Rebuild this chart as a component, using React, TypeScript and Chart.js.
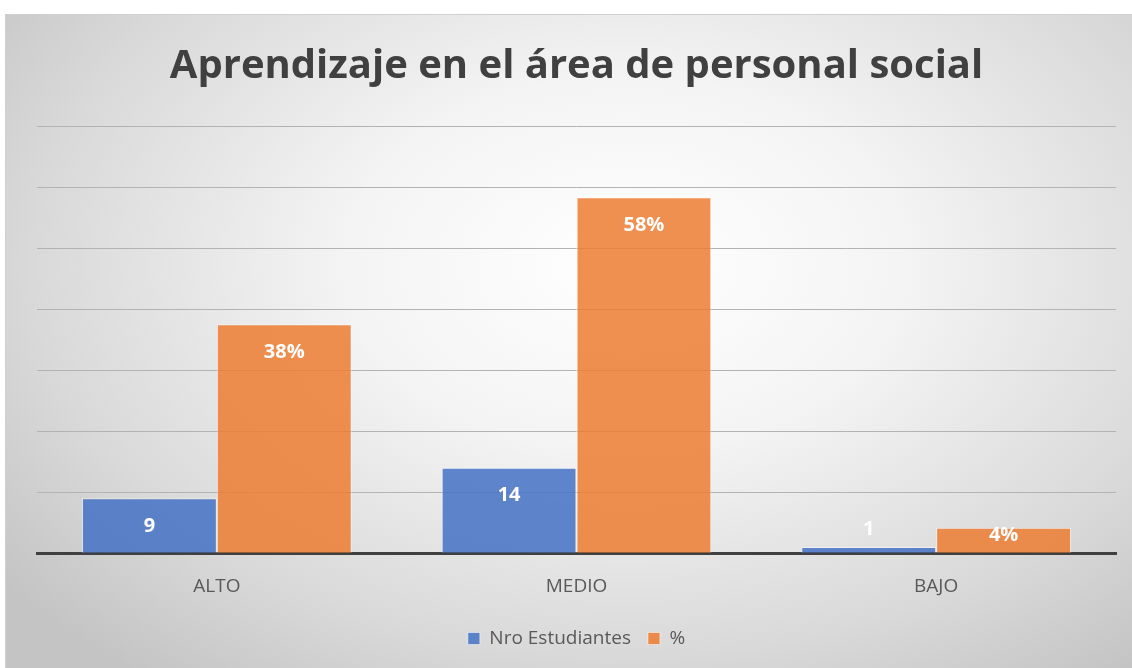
import React, { useEffect, useRef } from "react";
import { Chart, registerables } from "chart.js";

Chart.register(...registerables);

const categories = ["ALTO", "MEDIO", "BAJO"];
const estudiantes = [9, 14, 1];
const porcentaje = [37.5, 58.33, 4.17];
const porcentajeLabels = ["38%", "58%", "4%"];
const estudiantesLabels = ["9", "14", "1"];
const seriesNames = ["Nro Estudiantes", "%"];
const titleText = "Aprendizaje en el área de personal social";

const FONT = "'Open Sans', 'Liberation Sans', sans-serif";

const labelPlugin = {
  id: "barLabels",
  afterDatasetsDraw(chart: any) {
    const ctx = chart.ctx;
    const labelSets = [estudiantesLabels, porcentajeLabels];
    ctx.save();
    ctx.fillStyle = "#ffffff";
    ctx.font = `bold 20px ${FONT}`;
    ctx.textAlign = "center";
    ctx.textBaseline = "middle";
    chart.data.datasets.forEach((_ds: any, di: number) => {
      const meta = chart.getDatasetMeta(di);
      meta.data.forEach((bar: any, i: number) => {
        const top = bar.y;
        const base = bar.base;
        const h = base - top;
        let y: number;
        if (h >= 40) y = top + 28;
        else if (h >= 15) y = top + 8;
        else y = top - 18;
        ctx.fillText(labelSets[di][i], bar.x, y);
      });
    });
    ctx.restore();
  },
};

export default function App() {
  const ref = useRef<HTMLCanvasElement>(null);
  useEffect(() => {
    if (!ref.current) return;
    const chart = new Chart(ref.current, {
      type: "bar",
      data: {
        labels: categories,
        datasets: [
          {
            label: seriesNames[0],
            data: estudiantes,
            backgroundColor: "rgba(68,114,196,0.85)",
            borderColor: "rgba(255,255,255,0.5)",
            borderWidth: 1,
          },
          {
            label: seriesNames[1],
            data: porcentaje,
            backgroundColor: "rgba(237,125,49,0.85)",
            borderColor: "rgba(255,255,255,0.5)",
            borderWidth: 1,
          },
        ],
      },
      options: {
        animation: false,
        responsive: false,
        maintainAspectRatio: false,
        layout: { padding: { left: 31, right: 16, top: 10, bottom: 10 } },
        datasets: { bar: { barPercentage: 1, categoryPercentage: 0.75 } },
        plugins: {
          title: {
            display: true,
            text: titleText,
            color: "#404040",
            font: { family: FONT, size: 40, weight: "bold" },
            padding: { top: 18, bottom: 35 },
          },
          legend: {
            position: "bottom",
            labels: {
              color: "#595959",
              font: { family: FONT, size: 19 },
              boxWidth: 12,
              boxHeight: 12,
              padding: 17,
            },
          },
          tooltip: { enabled: false },
        },
        scales: {
          x: {
            grid: { display: false },
            border: { display: true, color: "#404040", width: 3 },
            ticks: {
              color: "#595959",
              font: { family: FONT, size: 19 },
              padding: 14,
            },
          },
          y: {
            min: 0,
            max: 70,
            ticks: { display: false, stepSize: 10 },
            border: { display: false },
            grid: { color: "#b3b3b3", lineWidth: 1, drawTicks: false },
          },
        },
      },
      plugins: [labelPlugin],
    });
    return () => chart.destroy();
  }, []);

  return (
    <div
      style={{
        position: "absolute",
        left: 5,
        top: 14,
        width: 1127,
        height: 654,
        background:
          "radial-gradient(ellipse 70% 80% at 55% 38%, #ffffff 0%, #f4f4f4 35%, #d9d9d9 75%, #c4c4c4 100%)",
        borderTop: "1px solid #d0d0d0",
        borderLeft: "1px solid #d0d0d0",
      }}
    >
      <canvas ref={ref} width={1126} height={653} style={{ display: "block" }} />
    </div>
  );
}
